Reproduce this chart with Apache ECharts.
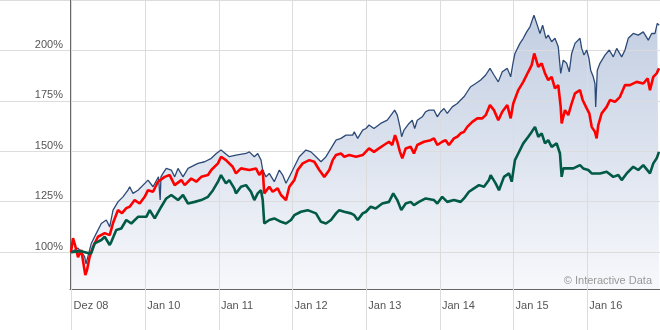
<!DOCTYPE html>
<html><head><meta charset="utf-8">
<script src="https://cdn.jsdelivr.net/npm/echarts@6/dist/echarts.min.js"></script>
<style>html,body{margin:0;padding:0;background:#fff}#c{width:660px;height:330px}</style>
</head><body><div id="c"></div>
<script>
// x ticks (time in decimal years) and their labels
const xTickValues = [2009, 2010, 2011, 2012, 2013, 2014, 2015, 2016];
const xTickLabels = ['Dez 08', 'Jan 10', 'Jan 11', 'Jan 12', 'Jan 13', 'Jan 14', 'Jan 15', 'Jan 16'];
const yTickValues = [100, 125, 150, 175, 200, 225];
const yLabelValues = [100, 125, 150, 175, 200];
const copyrightText = '\u00A9 Interactive Data';

// Series 1 (navy, with area)
const blueT = [2008.992,2009.087,2009.177,2009.195,2009.267,2009.335,2009.403,2009.471,2009.517,2009.562,
2009.629,2009.697,2009.765,2009.788,2009.833,2009.901,2010.037,2010.105,2010.179,2010.202,
2010.213,2010.240,2010.285,2010.353,2010.399,2010.444,2010.512,2010.580,2010.715,2010.806,
2010.896,2010.964,2011.028,2011.140,2011.231,2011.367,2011.412,2011.480,2011.526,2011.571,
2011.594,2011.638,2011.683,2011.751,2011.819,2011.865,2011.910,2011.978,2012.023,2012.090,
2012.181,2012.249,2012.317,2012.385,2012.453,2012.521,2012.589,2012.656,2012.724,2012.815,
2012.837,2012.883,2012.951,2012.996,2013.037,2013.104,2013.195,2013.285,2013.353,2013.385,
2013.421,2013.457,2013.480,2013.512,2013.580,2013.624,2013.657,2013.692,2013.760,2013.806,
2013.851,2013.919,2013.964,2014.010,2014.055,2014.099,2014.167,2014.235,2014.281,2014.326,
2014.371,2014.417,2014.485,2014.553,2014.621,2014.679,2014.733,2014.792,2014.846,2014.914,
2014.960,2014.991,2015.018,2015.086,2015.131,2015.177,2015.222,2015.276,2015.313,2015.358,
2015.394,2015.439,2015.470,2015.516,2015.561,2015.606,2015.639,2015.674,2015.720,2015.755,
2015.788,2015.833,2015.901,2015.924,2015.955,2015.992,2016.023,2016.046,2016.081,2016.104,
2016.114,2016.136,2016.172,2016.240,2016.298,2016.353,2016.399,2016.467,2016.512,2016.556,
2016.624,2016.692,2016.760,2016.828,2016.874,2016.919,2016.950,2016.977];
const blueV = [100,102.0,97.7,94.1,104.3,109.3,114.2,115.9,112.5,120.8,
124.9,127.4,130.7,132.4,129.1,130.7,135.7,132.4,137.3,125.8,
137.3,139.0,141.5,140.7,137.3,141.5,137.3,141.5,144.0,144.8,
146.5,148.9,150.6,147.3,148.1,148.9,149.7,147.3,148.9,145.6,
140.7,137.3,139.0,134.9,140.7,138.2,134.1,139.0,142.3,147.3,
150.6,149.7,147.3,144.8,147.3,151.4,155.5,156.4,158.0,158.0,
159.6,156.4,160.5,161.3,163.0,161.3,163.8,165.4,168.8,170.4,
167.9,162.1,157.2,160.5,163.8,165.4,161.3,165.4,167.1,169.6,
170.4,170.4,167.1,169.6,171.2,168.8,172.0,173.7,175.4,177.0,
179.5,182.0,183.6,185.3,187.8,191.1,187.8,184.4,189.4,191.1,
186.9,193.6,198.5,203.5,206.0,209.2,211.7,217.5,213.4,208.4,
212.5,206.0,207.6,204.3,206.0,201.8,188.6,195.2,193.6,189.4,
198.5,203.5,206.0,201.0,197.7,200.2,196.0,190.2,186.9,183.6,
172.0,190.2,193.6,197.7,200.2,196.8,201.0,196.8,200.2,206.0,
208.4,207.6,209.2,205.1,208.4,208.4,213.4,212.5];

// Series 2 (red)
const redT = [2008.992,2009.019,2009.046,2009.087,2009.131,2009.186,2009.209,2009.245,2009.290,2009.358,
2009.449,2009.517,2009.562,2009.629,2009.684,2009.742,2009.788,2009.856,2009.924,2009.992,
2010.037,2010.105,2010.172,2010.263,2010.331,2010.399,2010.489,2010.535,2010.624,2010.692,
2010.760,2010.851,2010.896,2010.987,2011.028,2011.095,2011.186,2011.231,2011.299,2011.412,
2011.503,2011.547,2011.594,2011.615,2011.683,2011.729,2011.797,2011.842,2011.910,2011.955,
2012.023,2012.069,2012.137,2012.226,2012.294,2012.362,2012.430,2012.498,2012.544,2012.589,
2012.656,2012.701,2012.769,2012.860,2012.951,2013.037,2013.104,2013.172,2013.240,2013.308,
2013.353,2013.390,2013.421,2013.457,2013.489,2013.535,2013.603,2013.647,2013.692,2013.783,
2013.874,2013.919,2013.964,2014.031,2014.077,2014.122,2014.190,2014.235,2014.281,2014.326,
2014.371,2014.439,2014.507,2014.574,2014.621,2014.679,2014.733,2014.792,2014.846,2014.914,
2014.960,2014.995,2015.063,2015.131,2015.199,2015.245,2015.280,2015.335,2015.381,2015.426,
2015.470,2015.516,2015.561,2015.606,2015.639,2015.652,2015.697,2015.742,2015.788,2015.833,
2015.901,2015.937,2015.982,2016.027,2016.060,2016.104,2016.127,2016.149,2016.195,2016.263,
2016.308,2016.376,2016.444,2016.512,2016.579,2016.670,2016.760,2016.820,2016.851,2016.896,
2016.942,2016.973];
const redV = [100,106.9,103.5,97.5,101.0,88.6,91.1,97.7,102.6,107.6,
109.4,108.4,114.4,120.8,119.3,121.8,122.5,125.8,124.1,127.4,
130.7,129.9,134.9,137.3,138.2,133.2,135.7,133.2,136.5,134.9,
137.3,138.2,140.7,144.0,147.3,145.6,142.3,139.0,141.5,140.7,
141.5,138.2,140.7,129.1,132.4,129.9,131.6,128.3,125.8,132.4,
135.7,140.7,144.0,145.6,144.8,140.7,137.3,140.7,145.6,148.1,
148.9,147.3,148.1,147.3,148.1,151.4,149.7,151.4,153.1,154.7,
153.1,158.0,154.7,149.7,146.5,151.4,152.2,148.9,153.1,154.7,
155.5,156.4,153.1,154.7,155.5,153.1,156.4,157.2,158.9,159.6,
162.1,164.6,166.3,166.3,167.9,172.9,170.4,165.4,169.6,172.9,
166.3,173.7,180.3,184.4,189.4,192.7,198.5,191.9,193.6,188.6,
185.3,186.9,181.2,182.8,172.0,163.8,170.4,167.9,173.7,178.7,
180.3,175.4,172.0,168.8,162.1,159.6,156.4,163.0,168.8,172.0,
175.4,174.5,177.0,182.8,182.8,184.4,183.6,186.1,180.3,186.9,
188.6,191.1];

// Series 3 (green)
const greenT = [2008.992,2009.114,2009.222,2009.267,2009.313,2009.403,2009.449,2009.517,2009.539,2009.606,
2009.674,2009.742,2009.810,2009.901,2010.014,2010.060,2010.128,2010.217,2010.285,2010.353,
2010.444,2010.512,2010.580,2010.671,2010.760,2010.851,2010.919,2010.987,2011.028,2011.095,
2011.140,2011.208,2011.231,2011.299,2011.367,2011.435,2011.480,2011.526,2011.571,2011.594,
2011.615,2011.683,2011.751,2011.842,2011.910,2011.978,2012.023,2012.113,2012.204,2012.226,
2012.317,2012.385,2012.453,2012.521,2012.589,2012.633,2012.701,2012.792,2012.837,2012.883,
2012.951,2012.996,2013.060,2013.127,2013.217,2013.308,2013.366,2013.390,2013.421,2013.475,
2013.535,2013.603,2013.647,2013.715,2013.806,2013.919,2013.964,2014.031,2014.099,2014.190,
2014.281,2014.326,2014.394,2014.462,2014.530,2014.598,2014.665,2014.688,2014.756,2014.801,
2014.869,2014.937,2014.974,2015.018,2015.063,2015.131,2015.199,2015.245,2015.290,2015.335,
2015.381,2015.426,2015.470,2015.516,2015.584,2015.629,2015.652,2015.674,2015.810,2015.901,
2015.945,2016.013,2016.060,2016.172,2016.263,2016.353,2016.421,2016.467,2016.535,2016.624,
2016.692,2016.760,2016.851,2016.896,2016.942,2016.973];
const greenV = [100,100.5,99.5,99.5,104.3,106.0,107.6,103.5,105.1,110.9,
111.7,115.9,114.2,117.5,117.5,120.8,116.7,122.5,126.6,128.3,
125.8,128.3,124.1,124.9,125.8,127.4,130.7,134.9,138.2,134.1,
135.7,131.6,129.1,132.4,133.2,129.9,125.8,129.1,130.7,125.8,
114.2,115.9,116.7,115.0,114.2,115.9,118.3,120.0,120.8,121.6,
119.2,115.0,114.2,115.9,119.2,120.8,120.0,119.2,118.3,115.9,
119.2,120.0,122.5,121.6,124.1,124.9,129.1,129.9,125.8,120.8,
124.1,124.9,123.3,124.9,126.6,125.8,124.1,127.4,124.9,125.8,
124.9,126.6,129.9,131.6,133.2,132.4,135.7,138.2,134.1,130.7,
137.3,139.0,134.9,145.6,148.9,153.9,157.2,159.6,162.1,157.2,
158.9,153.9,155.5,152.2,153.9,148.9,137.3,141.5,141.5,143.1,
141.5,140.7,139.0,139.0,139.8,137.3,138.2,135.7,139.0,142.3,
140.7,143.1,139.0,144.0,146.5,149.7];

const zip = (t, v) => t.map((x, i) => [x, v[i]]);
const FONT = 'Liberation Sans, Arial, sans-serif';
const GRID_COLOR = '#dcdcdc';

const chart = echarts.init(document.getElementById('c'), null, {renderer: 'canvas'});
chart.setOption({
  animation: false,
  backgroundColor: '#ffffff',
  grid: {left: 70, right: 0, top: 0, bottom: 41, containLabel: false},
  xAxis: {
    type: 'value', min: 2008.978, max: 2016.987, z: 1,
    axisLine: {show: true, lineStyle: {color: '#666', width: 1}},
    axisTick: {show: true, customValues: xTickValues, length: 41, lineStyle: {color: GRID_COLOR}},
    axisLabel: {
      customValues: xTickValues,
      formatter: v => xTickLabels[xTickValues.indexOf(v)] || '',
      align: 'left', verticalAlign: 'top', margin: 11, padding: [0, 0, 0, 2],
      color: '#555', fontSize: 11, fontFamily: FONT
    },
    splitLine: {show: true, lineStyle: {color: GRID_COLOR}}
  },
  yAxis: {
    type: 'value', min: 81.7, max: 225, z: 1,
    axisLine: {show: true, lineStyle: {color: '#666', width: 1}},
    axisTick: {show: true, customValues: yTickValues, length: 70, lineStyle: {color: GRID_COLOR}},
    axisLabel: {
      customValues: yLabelValues,
      formatter: '{value}%',
      verticalAlign: 'bottom', margin: 7,
      color: '#555', fontSize: 11, fontFamily: FONT
    },
    splitLine: {show: true, lineStyle: {color: GRID_COLOR}}
  },
  graphic: [{
    type: 'text', right: 8, top: 275, z: 10,
    style: {text: copyrightText, fill: '#999', font: '11px ' + FONT}
  }],
  series: [
    {
      type: 'line', data: zip(blueT, blueV), symbol: 'none', z: 0, silent: true,
      lineStyle: {width: 0},
      areaStyle: {
        origin: 'start', opacity: 1,
        color: new echarts.graphic.LinearGradient(0, 0, 0, 1, [
          {offset: 0, color: '#c2cee2'},
          {offset: 1, color: '#f7f8fb'}
        ])
      }
    },
    {type: 'line', data: zip(blueT, blueV), symbol: 'none', z: 2,
     lineStyle: {color: '#2d4a77', width: 1.3}},
    {type: 'line', data: zip(redT, redV), symbol: 'none', z: 3,
     lineStyle: {color: '#ff0000', width: 2.6}},
    {type: 'line', data: zip(greenT, greenV), symbol: 'none', z: 4,
     lineStyle: {color: '#005a46', width: 2.6}}
  ]
});
</script>
</body></html>
